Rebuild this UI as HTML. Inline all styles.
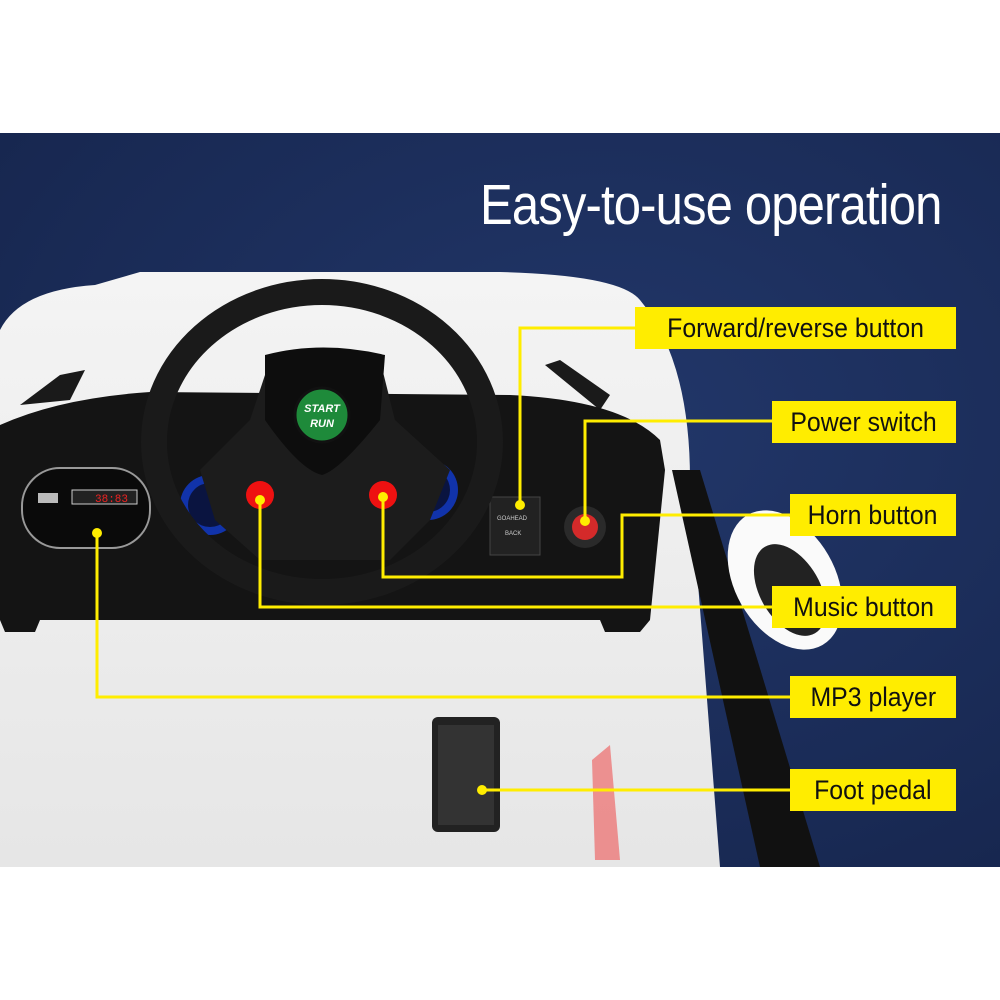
<!DOCTYPE html>
<html><head><meta charset="utf-8"><style>
body{margin:0;width:1000px;height:1000px;background:#fff;overflow:hidden;font-family:"Liberation Sans",sans-serif}
.band{position:absolute;left:0;top:133px;width:1000px;height:734px;background:radial-gradient(ellipse at 60% 40%,#22376a,#15244b)}
svg{position:absolute;left:0;top:0}
.t{position:absolute;left:480px;top:172px;color:#fff;font-size:57px;letter-spacing:-1px;white-space:nowrap;transform:scaleX(0.86);transform-origin:0 0}
.l{position:absolute;background:#ffed00;color:#111;font-size:27px;height:42px;line-height:42px;text-align:center;white-space:nowrap}
.l span{display:inline-block;transform:scaleX(0.92)}
</style></head><body>
<div class="band"></div>
<svg width="1000" height="1000" viewBox="0 0 1000 1000">
<defs><linearGradient id="w" x1="0" y1="0" x2="0" y2="1"><stop offset="0" stop-color="#f4f4f4"/><stop offset="1" stop-color="#e6e6e6"/></linearGradient></defs>
<path d="M0 330 Q20 290 95 285 L140 272 L500 272 Q620 275 640 300 Q690 360 690 480 L720 867 L0 867 Z" fill="url(#w)"/>
<path d="M672 470 L700 470 L820 867 L760 867 Z" fill="#111"/>
<ellipse cx="785" cy="580" rx="50" ry="75" fill="#fafafa" transform="rotate(-30 785 580)"/>
<ellipse cx="790" cy="590" rx="30" ry="50" fill="#222" transform="rotate(-30 790 590)"/>
<path d="M20 405 L60 375 L85 370 L70 400 Z M545 365 L560 360 L610 395 L600 410 Z" fill="#1a1a1a"/>
<path d="M0 425 Q60 398 150 392 L510 395 Q620 400 660 440 L665 470 L650 620 L640 632 L605 632 L600 620 L40 620 L35 632 L5 632 L0 620 Z" fill="#141414"/>
<rect x="22" y="468" width="128" height="80" rx="38" fill="#0a0a0a" stroke="#999" stroke-width="2"/>
<rect x="72" y="490" width="65" height="14" fill="#222" stroke="#ccc" stroke-width="1"/>
<text x="95" y="502" fill="#e22" font-size="11" font-family="Liberation Mono">38:83</text>
<rect x="38" y="493" width="20" height="10" fill="#bbb"/>
<rect x="490" y="497" width="50" height="58" fill="#222" stroke="#444"/>
<text x="497" y="520" fill="#ccc" font-size="6">GOAHEAD</text><text x="505" y="535" fill="#ccc" font-size="6">BACK</text>
<circle cx="585" cy="527" r="21" fill="#2a2a2a"/><circle cx="585" cy="527" r="13" fill="#d42a2a"/>
<circle cx="210" cy="505" r="30" fill="#1133aa"/><circle cx="210" cy="505" r="22" fill="#0a1440"/>
<circle cx="428" cy="490" r="30" fill="#1133aa"/><circle cx="428" cy="490" r="22" fill="#0a1440"/>
<ellipse cx="322" cy="442" rx="168" ry="150" fill="none" stroke="#1a1a1a" stroke-width="26"/>
<path d="M200 470 L250 420 L270 360 L380 360 L395 420 L450 470 L430 520 L390 560 L260 560 L215 520 Z" fill="#1c1c1c"/>
<path d="M265 355 Q322 340 385 355 L380 420 Q340 470 322 475 Q300 470 265 420 Z" fill="#0d0d0d"/>
<circle cx="322" cy="415" r="27" fill="#1e8a3a" stroke="#111" stroke-width="3"/>
<text x="322" y="412" fill="#fff" font-size="11" font-style="italic" font-weight="bold" text-anchor="middle">START</text>
<text x="322" y="427" fill="#fff" font-size="11" font-style="italic" font-weight="bold" text-anchor="middle">RUN</text>
<circle cx="260" cy="495" r="14" fill="#e11"/><circle cx="383" cy="495" r="14" fill="#e11"/>
<rect x="432" y="717" width="68" height="115" rx="6" fill="#222"/><rect x="438" y="725" width="56" height="100" fill="#333"/>
<path d="M592 760 L610 745 L620 860 L595 860 Z" fill="#e55" opacity=".6"/>
<g stroke="#ffed00" stroke-width="3" fill="none">
<path d="M636 328 H520 V505"/><path d="M772 421 H585 V520"/>
<path d="M790 515 H622 V577 H383 V497"/><path d="M772 607 H260 V500"/>
<path d="M790 697 H97 V533"/><path d="M790 790 H482"/>
</g>
<g fill="#ffed00"><circle cx="520" cy="505" r="5"/><circle cx="585" cy="521" r="5"/><circle cx="383" cy="497" r="5"/><circle cx="260" cy="500" r="5"/><circle cx="97" cy="533" r="5"/><circle cx="482" cy="790" r="5"/></g>
</svg>
<div class="t">Easy-to-use operation</div>
<div class="l" style="left:635px;top:307px;width:321px"><span>Forward/reverse button</span></div>
<div class="l" style="left:772px;top:401px;width:184px"><span>Power switch</span></div>
<div class="l" style="left:790px;top:494px;width:166px"><span>Horn button</span></div>
<div class="l" style="left:772px;top:586px;width:184px"><span>Music button</span></div>
<div class="l" style="left:790px;top:676px;width:166px"><span>MP3 player</span></div>
<div class="l" style="left:790px;top:769px;width:166px"><span>Foot pedal</span></div>
</body></html>
